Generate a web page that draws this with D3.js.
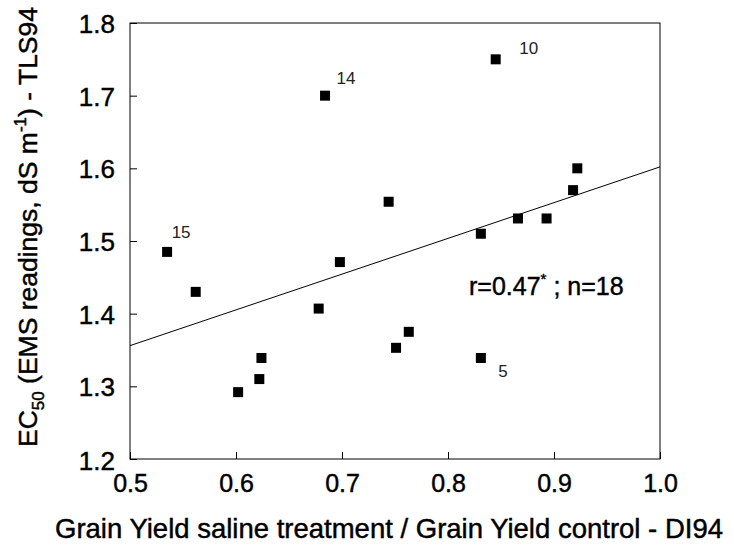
<!DOCTYPE html>
<html>
<head>
<meta charset="utf-8">
<script src="https://cdn.jsdelivr.net/npm/d3@7"></script>
<style>
  body { margin: 0; background: #fff; }
  text { font-family: "Liberation Sans", Arial, sans-serif; fill: #000; }
  .heavy { stroke: #000; stroke-width: 0.45px; }
</style>
</head>
<body>
<div id="chart"></div>
<script>
// values
const xValues = [0.535, 0.562, 0.602, 0.622, 0.624, 0.678, 0.698, 0.684, 0.744, 0.751, 0.763, 0.831, 0.831, 0.845, 0.866, 0.893, 0.918, 0.922];
const yValues = [1.485, 1.430, 1.292, 1.310, 1.339, 1.407, 1.471, 1.700, 1.554, 1.353, 1.375, 1.510, 1.339, 1.750, 1.531, 1.531, 1.570, 1.600];
const pointLabels = ["15", "", "", "", "", "", "", "14", "", "", "", "", "5", "10", "", "", "", ""];
const xTicks = [0.5, 0.6, 0.7, 0.8, 0.9, 1.0];
const yTicks = [1.2, 1.3, 1.4, 1.5, 1.6, 1.7, 1.8];
const fitX = [0.5, 1.0];
const fitY = [1.356, 1.602];

const width = 734;
const height = 551;
const margin = {top: 23, right: 74, bottom: 92, left: 130};

// where the id numbers sit, relative to their square
const labelOffset = {"15": [14, -20], "14": [21, -18], "10": [33, -11], "5": [22, 13]};

const svg = d3.select("#chart")
    .append("svg")
    .attr("width", width)
    .attr("height", height);

const x = d3.scaleLinear()
    .domain([0.5, 1.0])
    .range([margin.left, width - margin.right]);

const y = d3.scaleLinear()
    .domain([1.2, 1.8])
    .range([height - margin.bottom, margin.top]);

// x axis: ticks point inward, labels drawn lower down
const xAxis = svg.append("g")
    .attr("transform", `translate(0,${height - margin.bottom})`)
    .call(d3.axisBottom(x).tickValues(xTicks).tickSize(-7).tickPadding(0).tickFormat(d3.format(".1f")));
xAxis.select(".domain").remove();
xAxis.selectAll("line").attr("stroke", "#000");
xAxis.selectAll("text")
    .attr("class", "heavy")
    .attr("y", 33)
    .attr("dy", 0)
    .style("font-size", "25px");

const yAxis = svg.append("g")
    .attr("transform", `translate(${margin.left},0)`)
    .call(d3.axisLeft(y).tickValues(yTicks).tickSize(-7).tickFormat(d3.format(".1f")));
yAxis.select(".domain").remove();
yAxis.selectAll("line").attr("stroke", "#000");
yAxis.selectAll("text")
    .attr("class", "heavy")
    .attr("x", -15)
    .attr("dy", "0.36em")
    .style("font-size", "26px");
yAxis.selectAll(".tick text").filter(d => d === 1.2).attr("dy", "0.42em");

// plot frame
svg.append("rect")
    .attr("x", x(0.5))
    .attr("y", y(1.8))
    .attr("width", x(1.0) - x(0.5))
    .attr("height", y(1.2) - y(1.8))
    .attr("fill", "none")
    .attr("stroke", "#000")
    .attr("stroke-width", 1);

// regression line
svg.append("line")
    .attr("x1", x(fitX[0]))
    .attr("y1", y(fitY[0]))
    .attr("x2", x(fitX[1]))
    .attr("y2", y(fitY[1]))
    .attr("stroke", "#000")
    .attr("stroke-width", 1);

const points = xValues.map((v, i) => ({x: v, y: yValues[i], label: pointLabels[i]}));

svg.selectAll("rect.pt")
    .data(points)
    .join("rect")
    .attr("class", "pt")
    .attr("x", d => x(d.x) - 5)
    .attr("y", d => y(d.y) - 5)
    .attr("width", 10)
    .attr("height", 10)
    .attr("fill", "#000");

svg.selectAll("text.pt-label")
    .data(points.filter(d => d.label !== ""))
    .join("text")
    .attr("class", "pt-label")
    .attr("x", d => x(d.x) + labelOffset[d.label][0])
    .attr("y", d => y(d.y) + labelOffset[d.label][1])
    .attr("text-anchor", "middle")
    .attr("dy", "0.35em")
    .style("font-family", "'Liberation Sans Narrow', 'Arial Narrow', 'Liberation Sans', sans-serif")
    .style("font-size", "17px")
    .style("fill", "#222")
    .text(d => d.label);

// correlation note
const note = svg.append("text")
    .attr("class", "heavy")
    .attr("x", 469)
    .attr("y", 295)
    .style("font-size", "25px");
note.append("tspan").text("r=0.47");
note.append("tspan").attr("dy", -11).style("font-size", "15px").text("*");
note.append("tspan").attr("dy", 11).text(" ; n=18");

// axis titles
svg.append("text")
    .attr("class", "heavy")
    .attr("x", 389)
    .attr("y", 538)
    .attr("text-anchor", "middle")
    .style("font-size", "27.5px")
    .text("Grain Yield saline treatment / Grain Yield control - DI94");

const yTitle = svg.append("text")
    .attr("class", "heavy")
    .attr("transform", "translate(37,227) rotate(-90)")
    .attr("text-anchor", "middle")
    .style("font-size", "26.5px");
yTitle.append("tspan").text("EC");
yTitle.append("tspan").attr("dy", 7).style("font-size", "17px").text("50");
yTitle.append("tspan").attr("dy", -7).text(" (EMS readings, dS m");
yTitle.append("tspan").attr("dy", -11).style("font-size", "17px").text("-1");
yTitle.append("tspan").attr("dy", 11).text(") - TLS94");
</script>
</body>
</html>
